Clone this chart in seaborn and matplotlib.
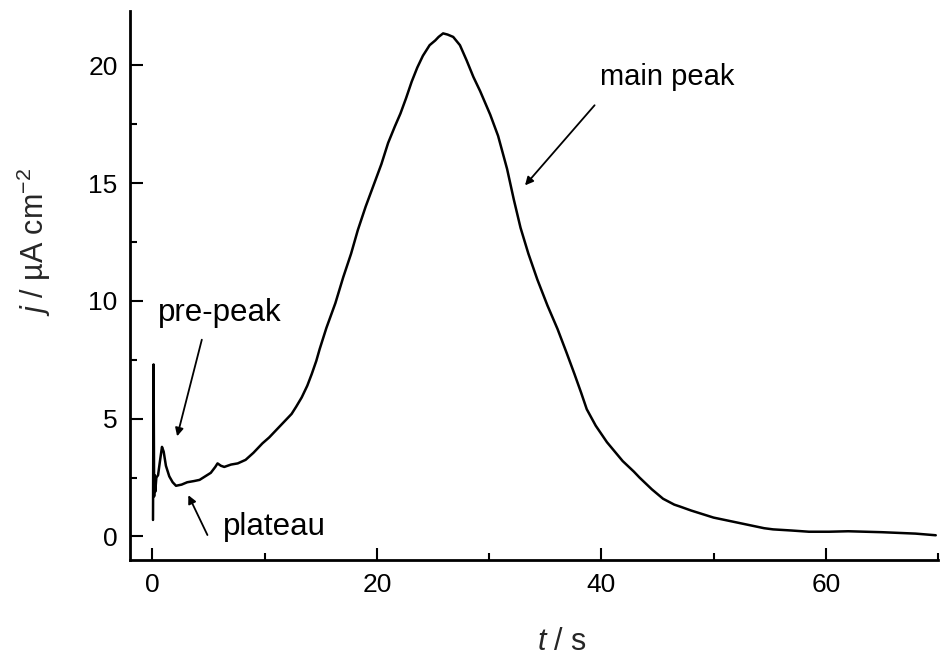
import matplotlib
matplotlib.use("Agg")
import matplotlib.pyplot as plt
import pandas as pd
import seaborn as sns

# Current transient: time (s) and current density (uA cm^-2)
time_s = [
    0.05, 0.10, 0.15, 0.20, 0.25, 0.35, 0.50, 0.70, 0.85, 1.00,
    1.20, 1.50, 1.80, 2.10, 2.60, 3.10, 3.70, 4.20, 4.70, 5.20,
    5.60, 5.80, 6.10, 6.40, 7.00, 7.60, 8.30, 9.00, 9.80, 10.40,
    11.00, 11.70, 12.40, 12.80, 13.30, 13.80, 14.20, 14.60, 14.90, 15.50,
    16.30, 17.00, 17.70, 18.30, 19.00, 19.70, 20.40, 21.00, 21.60, 22.10,
    22.60, 23.10, 23.60, 24.10, 24.70, 25.20, 25.50, 25.90, 26.30, 26.80,
    27.40, 28.00, 28.60, 29.20, 30.10, 30.80, 31.60, 32.20, 32.80, 33.50,
    34.30, 35.20, 36.10, 36.90, 37.60, 38.20, 38.70, 39.50, 40.50, 41.20,
    41.90, 42.90, 43.40, 44.50, 45.50, 46.50, 47.00, 48.00, 49.00, 50.00,
    51.50, 53.00, 54.50, 55.30, 57.00, 58.50, 60.30, 62.00, 63.50, 65.00,
    66.50, 68.00, 69.80,
]
current_density = [
    0.70, 7.30, 1.70, 2.60, 1.90, 2.50, 2.60, 3.30, 3.80, 3.60,
    3.00, 2.55, 2.30, 2.15, 2.20, 2.30, 2.35, 2.40, 2.55, 2.70,
    2.95, 3.10, 3.00, 2.95, 3.05, 3.10, 3.25, 3.55, 3.95, 4.20,
    4.50, 4.85, 5.20, 5.50, 5.90, 6.40, 6.90, 7.45, 7.95, 8.85,
    9.90, 11.00, 12.00, 13.00, 14.00, 14.90, 15.80, 16.70, 17.40, 17.95,
    18.60, 19.30, 19.90, 20.40, 20.85, 21.05, 21.20, 21.35, 21.30, 21.20,
    20.85, 20.20, 19.50, 18.90, 17.90, 17.00, 15.60, 14.30, 13.10, 12.00,
    10.90, 9.80, 8.80, 7.80, 6.90, 6.10, 5.40, 4.70, 4.00, 3.60,
    3.20, 2.75, 2.50, 2.00, 1.60, 1.35, 1.27, 1.10, 0.95, 0.80,
    0.65, 0.50, 0.35, 0.30, 0.25, 0.20, 0.20, 0.22, 0.20, 0.18,
    0.15, 0.12, 0.05,
]

# Feature labels: text position, arrow tail, arrow head (data coordinates)
labels = ["main peak", "pre-peak", "plateau"]
label_xy = [(45.9, 19.5), (6.0, 9.5), (10.9, 0.4)]
label_size = [21, 22.5, 22.5]
arrow_tail = [(39.4, 18.3), (4.4, 8.35), (4.9, 0.06)]
arrow_head = [(33.2, 14.9), (2.2, 4.25), (3.2, 1.75)]

x_ticks = [0, 20, 40, 60]
y_ticks = [0, 5, 10, 15, 20]

sns.set_theme(style="ticks")
plt.rcParams["font.family"] = ["Liberation Sans", "DejaVu Sans"]
plt.rcParams["mathtext.fontset"] = "custom"
plt.rcParams["mathtext.rm"] = "Liberation Sans"
plt.rcParams["mathtext.it"] = "Liberation Sans:italic"

df = pd.DataFrame({"t": time_s, "j": current_density})

fig = plt.figure(figsize=(9.46, 6.6), dpi=100)
ax = fig.add_axes([130 / 946, 1 - 560 / 660, 808 / 946, 549 / 660])

sns.lineplot(data=df, x="t", y="j", ax=ax, color="black", linewidth=1.8,
             sort=False, estimator=None)

ax.set_xlim(-2, 70)
ax.set_ylim(-1, 22.3)
ax.set_xticks(x_ticks)
ax.set_yticks(y_ticks)
ax.set_xticks([10, 30, 50, 70], minor=True)
ax.set_yticks([2.5, 7.5, 12.5, 17.5], minor=True)
ax.tick_params(which="both", direction="in", width=1.5, colors="black",
               labelsize=19, pad=9)
ax.tick_params(which="major", length=9)
ax.tick_params(which="minor", length=5)

for side in ("top", "right"):
    ax.spines[side].set_visible(False)
for side in ("left", "bottom"):
    ax.spines[side].set_linewidth(2.0)
    ax.spines[side].set_color("black")

ax.set_xlabel("$t$ / s", fontsize=22)
ax.set_ylabel("$j$ / \u00b5A cm$^{-2}$", fontsize=22)
ax.xaxis.set_label_coords(0.535, -0.122)
ax.yaxis.set_label_coords(-0.095, 0.58)

for text, pos, size, tail, head in zip(labels, label_xy, label_size,
                                        arrow_tail, arrow_head):
    ax.text(pos[0], pos[1], text, fontsize=size, ha="center", va="center",
            color="black")
    ax.annotate("", xy=head, xytext=tail,
                arrowprops=dict(arrowstyle="-|>", color="black", lw=1.3,
                                mutation_scale=12, shrinkA=0, shrinkB=0))

fig.savefig("out.png", dpi=100, facecolor="white")
